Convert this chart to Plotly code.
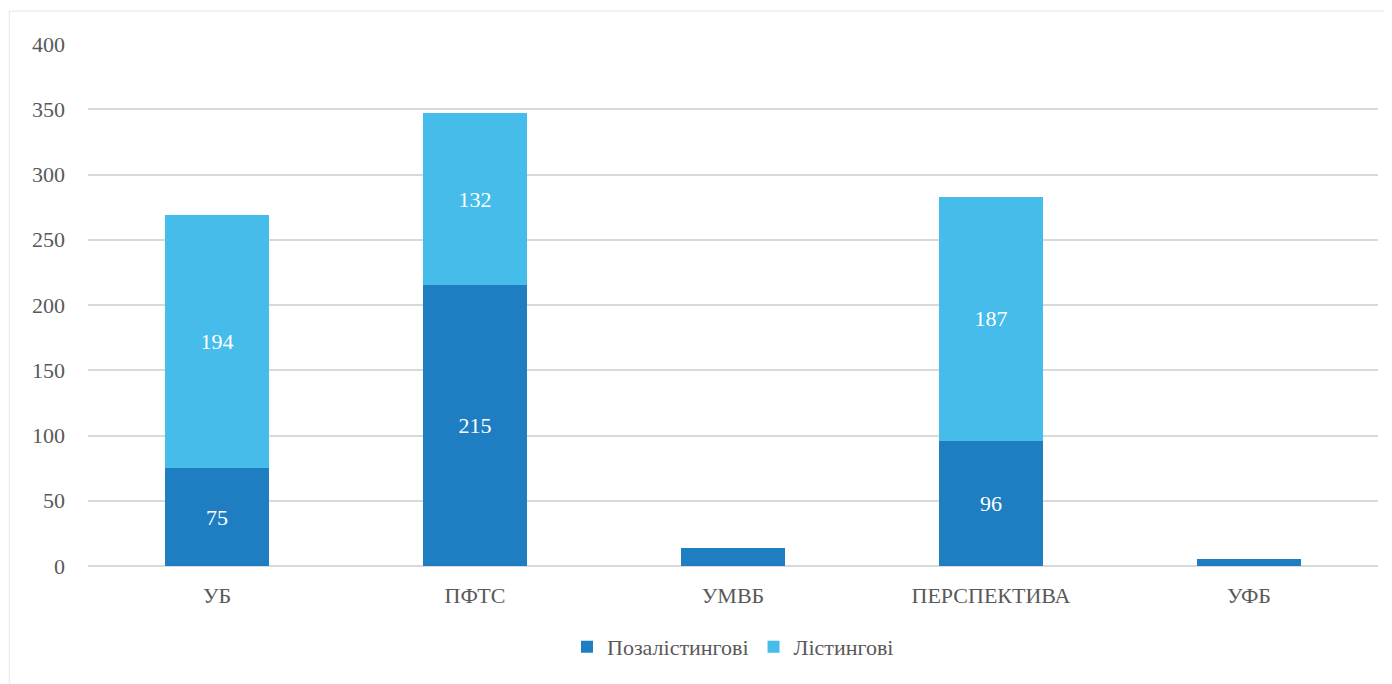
import plotly.graph_objects as go

categories = ["УБ", "ПФТС", "УМВБ", "ПЕРСПЕКТИВА", "УФБ"]
off_listing = [75, 215, 14, 96, 5]
listing = [194, 132, 0, 187, 0]
off_labels = ["75", "215", "", "96", ""]
list_labels = ["194", "132", "", "187", ""]
y_ticks = [0, 50, 100, 150, 200, 250, 300, 350, 400]

FONT = "Times New Roman, Liberation Serif, DejaVu Serif, serif"
GREY = "#595959"

fig = go.Figure()
fig.add_trace(go.Bar(
    x=categories, y=off_listing, name="Позалістингові",
    marker=dict(color="#1F7EC2", line=dict(width=0)),
    text=off_labels, textposition="inside", insidetextanchor="middle",
    textfont=dict(family=FONT, size=22, color="white"),
))
fig.add_trace(go.Bar(
    x=categories, y=listing, name="Лістингові",
    marker=dict(color="#45BCEA", line=dict(width=0)),
    text=list_labels, textposition="inside", insidetextanchor="middle",
    textfont=dict(family=FONT, size=22, color="white"),
))

fig.update_layout(
    barmode="stack",
    bargap=0.6,
    width=1384, height=676,
    margin=dict(l=80, r=14, t=36, b=118, autoexpand=False),
    paper_bgcolor="white", plot_bgcolor="white",
    font=dict(family=FONT, size=22, color=GREY),
    uniformtext=dict(mode="show", minsize=10),
    showlegend=True,
    legend=dict(orientation="h", x=0.5, xanchor="center", xref="paper",
                yref="container", y=0.086, yanchor="top",
                font=dict(family=FONT, size=22, color=GREY), traceorder="normal"),
    xaxis=dict(showgrid=False, showline=False, ticks="", ticklabelstandoff=14,
               tickfont=dict(family=FONT, size=22, color=GREY)),
    yaxis=dict(range=[0, 400], tickvals=y_ticks, showgrid=True, gridcolor="#D9D9D9",
               gridwidth=1.5, zeroline=True, zerolinecolor="#D9D9D9", zerolinewidth=1.5,
               showline=False, ticks="", ticklabelstandoff=22,
               tickfont=dict(family=FONT, size=22, color=GREY)),
    shapes=[dict(type="rect", xref="paper", yref="paper", x0=-0.061, x1=1.05, y0=-0.3, y1=1.063,
                 line=dict(color="#E6E6E6", width=1), layer="below")],
)

fig.write_html("out.html")
